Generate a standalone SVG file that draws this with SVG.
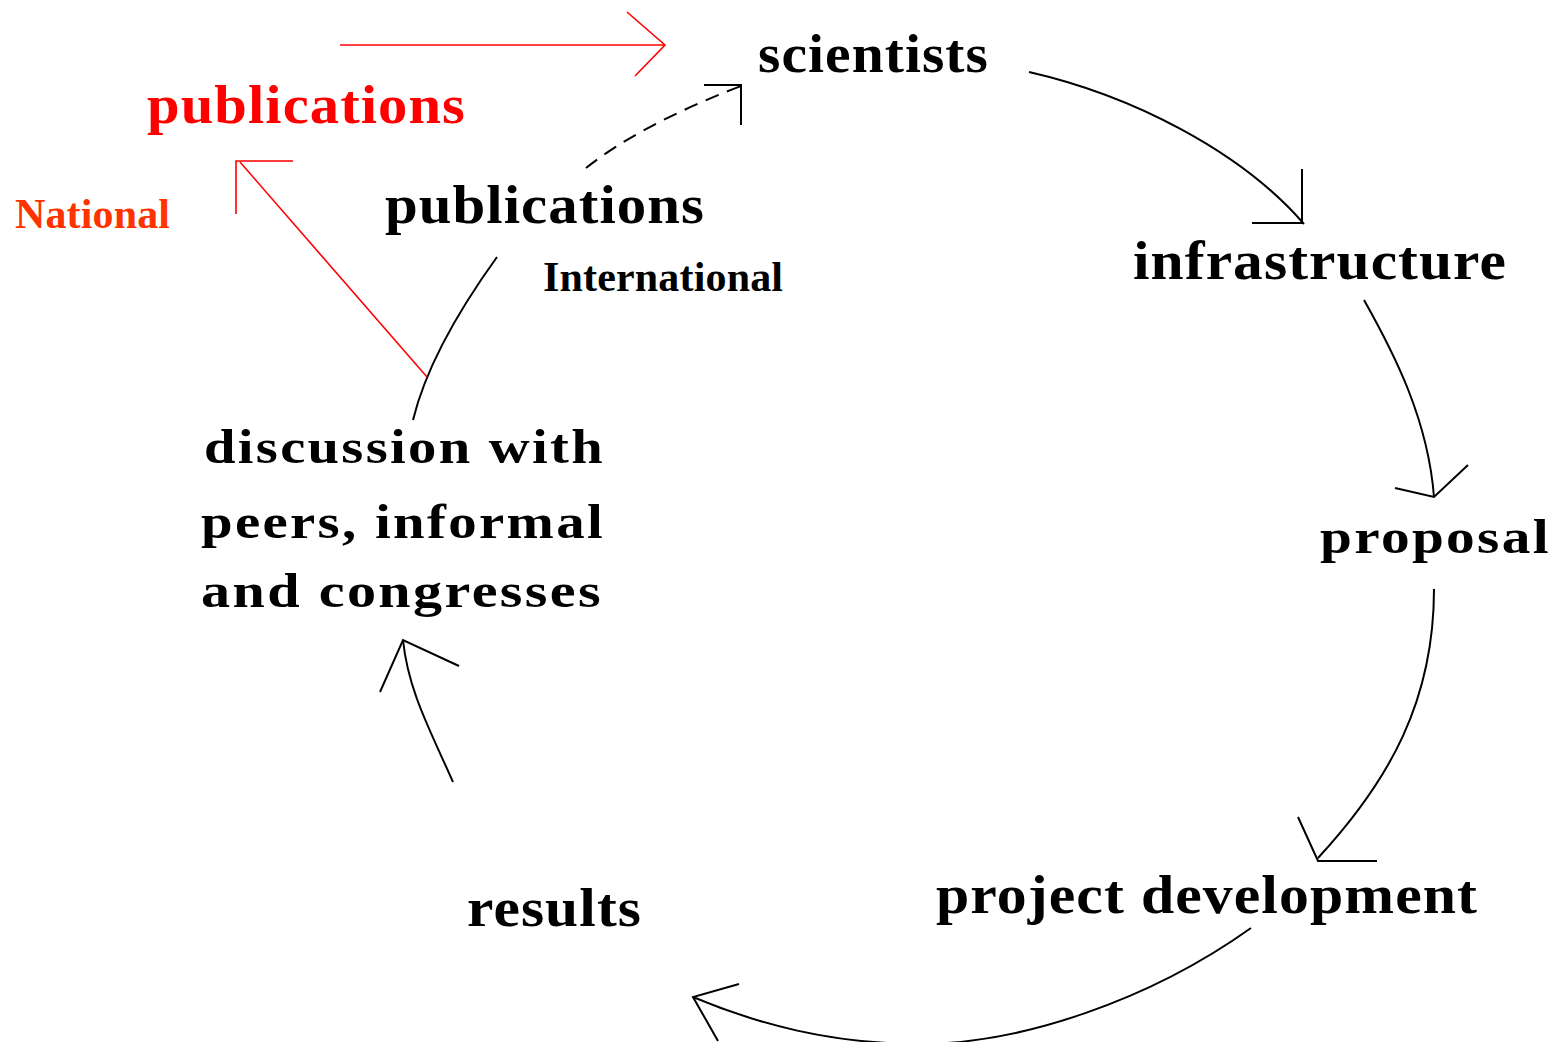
<svg xmlns="http://www.w3.org/2000/svg" width="1558" height="1042" viewBox="0 0 1558 1042">
<style>
.lbl{font-family:"Liberation Serif","Times New Roman",serif;font-weight:bold;fill:#000}
.big{font-size:55px;letter-spacing:1px}
.mid{font-size:49px;letter-spacing:2px}
.sm{font-size:42px}
.red{fill:#ff0000}
.orange{fill:#ff3300}
.c{fill:none;stroke:#000;stroke-width:2}
.r{fill:none;stroke:#ff0000;stroke-width:1.6}
</style>
<rect width="1558" height="1042" fill="#fff"/>
<g id="connectors">
  <path class="c" d="M1029,72 C1130,95 1240,150 1304,224"/>
  <path class="c" d="M1302,169 L1302,223 L1252,223"/>
  <path class="c" d="M1364,300 C1395,355 1428,420 1434,497"/>
  <path class="c" d="M1395,488 L1434,497 L1468,465"/>
  <path class="c" d="M1434,589 C1434,700 1390,780 1318,858"/>
  <path class="c" d="M1298,817 L1318,861 L1377,861"/>
  <path class="c" d="M1251,928 C1150,1000 1020,1045 915,1044 C830,1043 760,1025 693,997"/>
  <path class="c" d="M739,984 L693,997 L718,1041"/>
  <path class="c" d="M453,782 C430,730 408,690 403,640"/>
  <path class="c" d="M380,692 L403,640 L459,666"/>
  <path class="c" d="M413,420 Q430,350 497,257"/>
  <path class="c" d="M586,168 Q640,125 741,86" stroke-dasharray="14 9"/>
  <path class="c" d="M704,85 L741,85 L741,125"/>
  <path class="r" d="M427,377 L240,162"/>
  <path class="r" d="M293,161 L236,161 L236,214"/>
  <path class="r" d="M340,45 L665,45"/>
  <path class="r" d="M627,12 L665,45 L635,76"/>
</g>
<g id="node-scientists"><text class="lbl big" x="758" y="72" textLength="231" lengthAdjust="spacingAndGlyphs">scientists</text></g>
<g id="node-infrastructure"><text class="lbl big" x="1133" y="279" textLength="374" lengthAdjust="spacingAndGlyphs">infrastructure</text></g>
<g id="node-proposal"><text class="lbl mid" x="1320" y="553" textLength="231" lengthAdjust="spacingAndGlyphs">proposal</text></g>
<g id="node-project-development"><text class="lbl big" x="936" y="913" textLength="542" lengthAdjust="spacingAndGlyphs">project development</text></g>
<g id="node-results"><text class="lbl big" x="467" y="926" textLength="175" lengthAdjust="spacingAndGlyphs">results</text></g>
<g id="node-discussion">
  <text class="lbl mid" x="204" y="463" textLength="401" lengthAdjust="spacingAndGlyphs">discussion with</text>
  <text class="lbl mid" x="201" y="538" textLength="404" lengthAdjust="spacingAndGlyphs">peers, informal</text>
  <text class="lbl mid" x="201" y="607" textLength="402" lengthAdjust="spacingAndGlyphs">and congresses</text>
</g>
<g id="node-publications-international">
  <text class="lbl big" x="385" y="223" textLength="320" lengthAdjust="spacingAndGlyphs">publications</text>
  <text class="lbl sm" x="543" y="291" textLength="240" lengthAdjust="spacing">International</text>
</g>
<g id="node-publications-national">
  <text class="lbl big red" x="147" y="123" textLength="319" lengthAdjust="spacingAndGlyphs">publications</text>
  <text class="lbl sm orange" x="15" y="228" textLength="155" lengthAdjust="spacing">National</text>
</g>
</svg>
